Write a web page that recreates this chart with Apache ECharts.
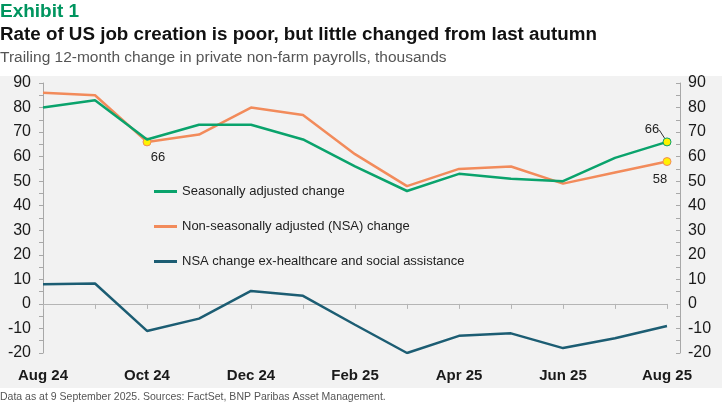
<!DOCTYPE html>
<html>
<head>
<meta charset="utf-8">
<script src="https://cdn.jsdelivr.net/npm/echarts@6/dist/echarts.min.js"></script>
<style>
  html, body { margin: 0; padding: 0; background: #fff; }
  #main { width: 725px; height: 406px; }
</style>
</head>
<body>
<div id="main"></div>
<script>
// data
var months = ['Aug 24', 'Sep 24', 'Oct 24', 'Nov 24', 'Dec 24', 'Jan 25', 'Feb 25',
              'Mar 25', 'Apr 25', 'May 25', 'Jun 25', 'Jul 25', 'Aug 25'];
var saChange = [80, 83, 67, 73, 73, 67, 56, 46, 53, 51, 50, 59.5, 66];
var nsaChange = [86, 85, 66, 69, 80, 77, 61, 48, 55, 56, 49, 53.5, 58];
var exHealth = [8, 8.3, -11, -6, 5.3, 3.3, -8.5, -20, -13, -12, -18, -14, -9];
var yTicks = [90, 80, 70, 60, 50, 40, 30, 20, 10, 0, -10, -20];

var GREEN = '#0aa36c', ORANGE = '#f28b5b', TEAL = '#1c5d73', YELLOW = '#fff200';
var SANS = "'Liberation Sans', Arial, sans-serif";

// put a yellow marker + label on chosen points
function marked(values, idx, color, labels) {
    return values.map(function (v, i) {
        if (idx.indexOf(i) < 0) return v;
        return {
            value: v,
            symbol: 'circle',
            symbolSize: 8,
            itemStyle: { color: YELLOW, borderColor: color, borderWidth: 1 },
            label: Object.assign({
                show: true,
                color: '#222',
                fontFamily: SANS,
                fontSize: 13,
                formatter: function (p) { return Math.round(p.value); }
            }, labels[idx.indexOf(i)])
        };
    });
}

var myChart = echarts.init(document.getElementById('main'));

var yAxisBase = {
    type: 'value',
    min: -20,
    max: 90,
    interval: 10,
    splitLine: { show: false },
    axisLine: { show: true, lineStyle: { color: '#a8a8a8', width: 1 } },
    axisTick: { show: true, length: 4, lineStyle: { color: '#a8a8a8' } },
    minorTick: { show: true, splitNumber: 2, length: 4, lineStyle: { color: '#a8a8a8' } },
    axisLabel: {
        color: '#1a1a1a', fontFamily: SANS, fontSize: 16, fontWeight: 500,
        formatter: function (v) { return yTicks.indexOf(v) >= 0 ? v : ''; }
    }
};

var option = {
    animation: false,
    graphic: [{
        type: 'rect', z: -10, silent: true,
        shape: { x: 0, y: 76, width: 722, height: 312 },
        style: { fill: '#f2f2f2' }
    }],
    title: [
        { text: 'Exhibit 1', left: 0, top: 2, padding: 0,
          textStyle: { color: '#00955f', fontFamily: SANS, fontSize: 19, fontWeight: 'bold' } },
        { text: 'Rate of US job creation is poor, but little changed from last autumn', left: 0, top: 25, padding: 0,
          textStyle: { color: '#111', fontFamily: SANS, fontSize: 18.8, fontWeight: 'bold' } },
        { text: 'Trailing 12-month change in private non-farm payrolls, thousands', left: 0, top: 50, padding: 0,
          textStyle: { color: '#555', fontFamily: SANS, fontSize: 15.5, fontWeight: 'normal' } },
        { text: 'Data as at 9 September 2025. Sources: FactSet, BNP Paribas Asset Management.', left: 0, top: 392, padding: 0,
          textStyle: { color: '#555', fontFamily: SANS, fontSize: 10.5, fontWeight: 'normal' } }
    ],
    legend: {
        orient: 'vertical',
        left: 149,
        top: 180,
        itemGap: 22,
        itemWidth: 23,
        itemHeight: 3,
        icon: 'rect',
        textStyle: { color: '#222', fontFamily: SANS, fontSize: 13 },
        data: ['Seasonally adjusted change', 'Non-seasonally adjusted (NSA) change',
               'NSA change ex-healthcare and social assistance']
    },
    grid: { left: 43, right: 58, top: 83, bottom: 53 },
    xAxis: [{
        type: 'category',
        data: months,
        boundaryGap: false,
        position: 'bottom',
        axisLine: { show: false, onZero: false },
        axisTick: { show: false },
        axisLabel: {
            interval: 1, margin: 15,
            color: '#1a1a1a', fontFamily: SANS, fontSize: 15, fontWeight: 'bold'
        }
    }, {
        type: 'category',
        data: months,
        boundaryGap: false,
        position: 'top',
        axisLine: { show: true, onZero: true, lineStyle: { color: '#b5b5b5', width: 1 } },
        axisTick: { show: true, inside: true, interval: 0, length: 5, lineStyle: { color: '#b5b5b5' } },
        axisLabel: { show: false }
    }],
    yAxis: [
        Object.assign({}, yAxisBase, { position: 'left', axisLabel: Object.assign({}, yAxisBase.axisLabel, { margin: 12 }) }),
        Object.assign({}, yAxisBase, {
            position: 'right', offset: 13,
            axisTick: Object.assign({}, yAxisBase.axisTick, { inside: true }),
            minorTick: Object.assign({}, yAxisBase.minorTick, { inside: true }),
            axisLabel: Object.assign({}, yAxisBase.axisLabel, { margin: 8 })
        })
    ],
    series: [{
        name: 'Seasonally adjusted change',
        type: 'line',
        symbol: 'none',
        showAllSymbol: true,
        lineStyle: { color: GREEN, width: 2.5 },
        itemStyle: { color: GREEN },
        z: 3,
        data: marked(saChange, [12], GREEN, [{ position: 'top' }]),
        // shift the last label up-left and join it with a small guide line
        labelLayout: function (p) {
            return p.dataIndex === 12 ? { dx: -15, dy: 4 } : {};
        },
        labelLine: { show: true, lineStyle: { color: '#333', width: 1 } }
    }, {
        name: 'Non-seasonally adjusted (NSA) change',
        type: 'line',
        symbol: 'none',
        showAllSymbol: true,
        lineStyle: { color: ORANGE, width: 2.5 },
        itemStyle: { color: ORANGE },
        z: 2,
        data: marked(nsaChange, [2, 12], ORANGE, [
            { position: 'bottom', offset: [11, 0] },
            { position: 'bottom', offset: [-7, 2] }
        ])
    }, {
        name: 'NSA change ex-healthcare and social assistance',
        type: 'line',
        symbol: 'none',
        lineStyle: { color: TEAL, width: 2.5 },
        itemStyle: { color: TEAL },
        data: exHealth
    }]
};

myChart.setOption(option);
</script>
</body>
</html>
